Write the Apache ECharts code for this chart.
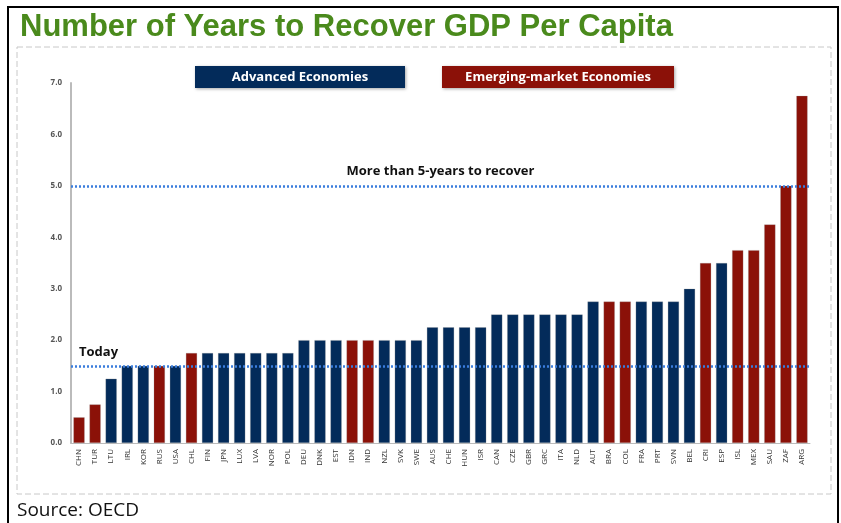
<!DOCTYPE html>
<html>
<head>
<meta charset="utf-8">
<script src="https://cdn.jsdelivr.net/npm/echarts@6/dist/echarts.min.js"></script>
<style>
html,body{margin:0;padding:0;background:#fff;}
#c{width:841px;height:523px;}
</style>
</head>
<body>
<div id="c"></div>
<script>
var categories = ["CHN","TUR","LTU","IRL","KOR","RUS","USA","CHL","FIN","JPN","LUX","LVA","NOR","POL","DEU","DNK","EST","IDN","IND","NZL","SVK","SWE","AUS","CHE","HUN","ISR","CAN","CZE","GBR","GRC","ITA","NLD","AUT","BRA","COL","FRA","PRT","SVN","BEL","CRI","ESP","ISL","MEX","SAU","ZAF","ARG"];
var values = [0.5,0.75,1.25,1.5,1.5,1.5,1.5,1.75,1.75,1.75,1.75,1.75,1.75,1.75,2.0,2.0,2.0,2.0,2.0,2.0,2.0,2.0,2.25,2.25,2.25,2.25,2.5,2.5,2.5,2.5,2.5,2.5,2.75,2.75,2.75,2.75,2.75,2.75,3.0,3.5,3.5,3.75,3.75,4.25,5.0,6.75];
var groups = ["E","E","A","A","A","E","A","E","A","A","A","A","A","A","A","A","A","E","E","A","A","A","A","A","A","A","A","A","A","A","A","A","A","E","E","A","A","A","A","E","A","E","E","E","E","E"];
var yTicks = [0,1,2,3,4,5,6,7];
var refLines = [{value:5.0,label:"More than 5-years to recover"},{value:1.5,label:"Today"}];
var legendNames = ["Advanced Economies","Emerging-market Economies"];

var NAVY = "#032b5a", RED = "#8b1108", LINE = "#3b7ddd";
var chart = echarts.init(document.getElementById('c'), null, {renderer:'canvas'});
var data = values.map(function(v,i){
  return {value:v, itemStyle:{color: groups[i]==="E"?RED:NAVY}};
});
var option = {
  animation:false,
  backgroundColor:'#fff',
  grid:{left:71,right:31,top:83,bottom:80},
  xAxis:{
    type:'category', data:categories,
    axisLine:{lineStyle:{color:'#bbbbbb',width:1}},
    axisTick:{show:false},
    axisLabel:{rotate:90,fontSize:8,color:'#333',fontFamily:'Open Sans',interval:0,margin:6}
  },
  yAxis:{
    type:'value', min:yTicks[0], max:yTicks[yTicks.length-1], interval:1,
    axisLine:{show:true,lineStyle:{color:'#bbbbbb',width:2}},
    axisTick:{show:false},
    splitLine:{show:false},
    axisLabel:{fontSize:8,fontWeight:'bold',color:'#555',fontFamily:'Open Sans',margin:9,
      formatter:function(v){return v.toFixed(1);}}
  },
  series:[{
    type:'bar', data:data, barCategoryGap:'30%',
    itemStyle:{borderColor:'rgba(150,150,150,0.5)',borderWidth:0.5},
    markLine:{
      silent:true, symbol:'none',
      lineStyle:{color:LINE,type:[2,2],width:2.5},
      data:[
        {yAxis:refLines[0].value,label:{show:true,position:'insideMiddleTop',formatter:refLines[0].label,
          fontSize:13,fontWeight:'bold',color:'#111',fontFamily:'Open Sans',distance:[-12,8]}},
        {yAxis:refLines[1].value,label:{show:true,position:'insideStartTop',formatter:refLines[1].label,
          fontSize:13,fontWeight:'bold',color:'#111',fontFamily:'Open Sans',distance:[8,7]}}
      ]
    }
  }],
  graphic:[
    {type:'rect',shape:{x:8,y:7,width:830,height:520},style:{fill:'none',stroke:'#000',lineWidth:2},silent:true},
    {type:'rect',shape:{x:17,y:47,width:814,height:447},style:{fill:'none',stroke:'#c8c8c8',lineWidth:1,lineDash:[6,3]},silent:true},
    {type:'text',left:20,top:12,style:{text:'Number of Years to Recover GDP Per Capita',fontSize:31,fontWeight:'bold',
      fontFamily:'Liberation Sans Narrow, Arial Narrow, Liberation Sans, sans-serif',fill:'#4a8a1c'}},
    {type:'rect',shape:{x:195,y:66,width:210,height:22},style:{fill:NAVY,shadowBlur:3,shadowColor:'rgba(0,0,0,0.35)',shadowOffsetX:1,shadowOffsetY:1}},
    {type:'text',x:300,y:77,style:{text:legendNames[0],align:'center',verticalAlign:'middle',fontSize:13,fontWeight:'bold',fill:'#fff',fontFamily:'Open Sans'}},
    {type:'rect',shape:{x:442,y:66,width:232,height:22},style:{fill:RED,shadowBlur:3,shadowColor:'rgba(0,0,0,0.35)',shadowOffsetX:1,shadowOffsetY:1}},
    {type:'text',x:558,y:77,style:{text:legendNames[1],align:'center',verticalAlign:'middle',fontSize:13,fontWeight:'bold',fill:'#fff',fontFamily:'Open Sans'}},
    {type:'text',left:17,top:501,style:{text:'Source: OECD',fontSize:19,fill:'#111',fontFamily:'Open Sans'}}
  ]
};
chart.setOption(option);
</script>
</body>
</html>
